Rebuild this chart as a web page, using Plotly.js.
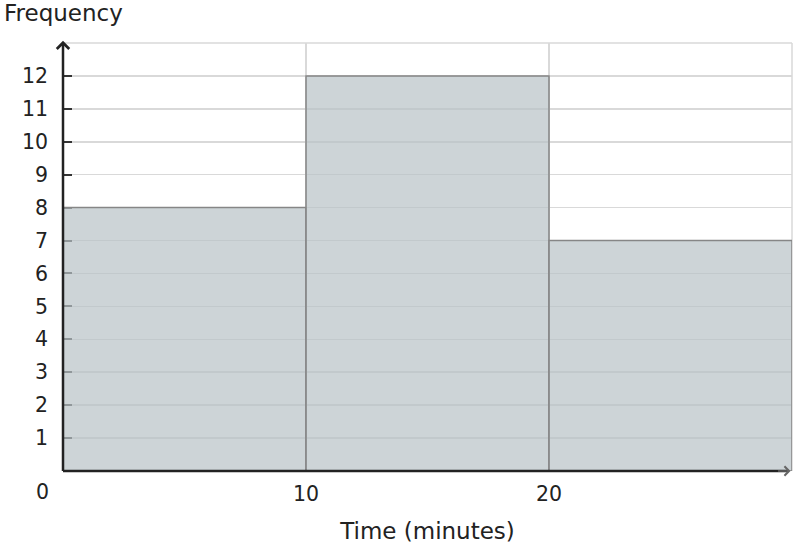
<!DOCTYPE html>
<html>
<head>
<meta charset="utf-8">
<script src="https://cdn.plot.ly/plotly-3.0.1.min.js"></script>
<style>
  html, body { margin: 0; padding: 0; background: #fff; }
  #myDiv { width: 796px; height: 548px; }
</style>
</head>
<body>
<div id="myDiv"></div>
<script>
// histogram bins (minutes) and their counts
let binStarts = [0, 10, 20];
let binWidth = 10;
let frequency = [8, 12, 7];
let xTickVals = [10, 20];
let yTickVals = [1, 2, 3, 4, 5, 6, 7, 8, 9, 10, 11, 12];

let mids = binStarts.map(b => b + binWidth / 2);

let trace1 = {
  x: mids,
  y: frequency,
  width: binStarts.map(() => binWidth),
  type: 'bar',
  marker: {
    color: 'rgba(184,194,198,0.7)',
    line: { color: '#868686', width: 1.5 }
  },
  hoverinfo: 'skip'
};

let font = 'DejaVu Sans, sans-serif';

let layout = {
  width: 796,
  height: 548,
  margin: { l: 63, r: 4, t: 43, b: 77 },
  paper_bgcolor: '#fff',
  plot_bgcolor: '#fff',
  showlegend: false,
  font: { family: font, size: 20.5, color: '#222' },
  title: {
    text: 'Frequency',
    font: { family: font, size: 23, color: '#222' },
    xref: 'container',
    x: 0.005,
    xanchor: 'left',
    yref: 'container',
    y: 0.977,
    yanchor: 'middle'
  },
  xaxis: {
    range: [0, 30],
    tickvals: xTickVals,
    ticktext: xTickVals.map(String),
    showgrid: true,
    gridcolor: '#d9d9d9',
    gridwidth: 1.5,
    zeroline: false,
    showline: false,
    ticks: '',
    ticklabelstandoff: 8,
    layer: 'below traces',
    title: {
      text: 'Time (minutes)',
      font: { family: font, size: 23, color: '#222' },
      standoff: 18
    },
    fixedrange: true
  },
  yaxis: {
    range: [0, 13],
    tickvals: yTickVals,
    ticktext: yTickVals.map(String),
    showgrid: true,
    gridcolor: '#d9d9d9',
    gridwidth: 1.5,
    zeroline: false,
    showline: false,
    ticks: 'inside',
    ticklen: 9,
    tickwidth: 2,
    tickcolor: '#333',
    ticklabelstandoff: 14,
    layer: 'below traces',
    fixedrange: true
  },
  shapes: [
    // light frame on the top and right
    { type: 'line', xref: 'paper', yref: 'paper', x0: 0, x1: 1, y0: 1, y1: 1,
      line: { color: '#d9d9d9', width: 1.5 }, layer: 'below' },
    { type: 'line', xref: 'paper', yref: 'paper', x0: 1, x1: 1, y0: 0, y1: 1,
      line: { color: '#d9d9d9', width: 1.5 }, layer: 'below' },
    // dark axis lines
    { type: 'line', xref: 'paper', yref: 'paper', x0: 0, x1: 0, y0: 0, y1: 0.995,
      line: { color: '#222', width: 2.5 }, layer: 'above' },
    { type: 'line', xref: 'paper', yref: 'paper', x0: 0, x1: 0.995, y0: 0, y1: 0,
      line: { color: '#222', width: 2.5 }, layer: 'above' }
  ],
  annotations: [
    { xref: 'paper', yref: 'paper', x: 0, y: 1.005, ax: 0, ay: 14, text: '',
      showarrow: true, arrowhead: 4, arrowsize: 1.2, arrowwidth: 2, arrowcolor: '#222' },
    { xref: 'paper', yref: 'paper', x: 0.998, y: 0, ax: -14, ay: 0, text: '',
      showarrow: true, arrowhead: 4, arrowsize: 1.2, arrowwidth: 1.5, arrowcolor: '#666' },
    { xref: 'paper', yref: 'paper', x: 0, y: 0, xshift: -21, yshift: -21,
      xanchor: 'center', yanchor: 'middle', text: '0',
      showarrow: false, font: { family: font, size: 20.5, color: '#222' } }
  ]
};

Plotly.newPlot('myDiv', [trace1], layout, { displayModeBar: false, staticPlot: true });
</script>
</body>
</html>
